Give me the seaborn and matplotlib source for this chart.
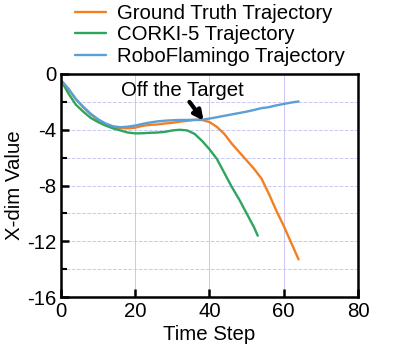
"""
X-dim trajectory comparison: Ground Truth vs CORKI-5 vs RoboFlamingo
"""
import numpy as np
import pandas as pd
import seaborn as sns
import matplotlib.pyplot as plt
from matplotlib.ticker import MultipleLocator

sns.set_theme(style='ticks')
plt.rcParams['font.family'] = ['Liberation Sans', 'DejaVu Sans']
plt.rcParams['axes.unicode_minus'] = False
plt.rcParams['text.color'] = 'black'

# 数据
gt_steps = list(range(0, 65, 2))
gt_values = [-0.45, -1.1, -1.8, -2.4, -2.9, -3.3, -3.6, -3.8, -3.88, -3.9,
             -3.85, -3.72, -3.65, -3.62, -3.55, -3.5, -3.42, -3.36, -3.3, -3.3,
             -3.45, -3.8, -4.3, -5.0, -5.6, -6.2, -6.8, -7.5, -8.6, -9.8,
             -10.9, -12.1, -13.3]

corki_steps = list(range(0, 53, 2)) + [53]
corki_values = [-0.45, -1.4, -2.2, -2.7, -3.15, -3.45, -3.7, -3.9, -4.05, -4.2,
                -4.26, -4.25, -4.22, -4.2, -4.15, -4.05, -4.0, -4.05, -4.3, -4.8,
                -5.4, -6.1, -7.1, -8.1, -9.0, -10.0, -11.0, -11.6]

flamingo_steps = list(range(0, 65, 2))
flamingo_values = [-0.45, -1.05, -1.8, -2.35, -2.85, -3.25, -3.55, -3.75, -3.82, -3.78,
                   -3.7, -3.58, -3.48, -3.4, -3.35, -3.32, -3.3, -3.3, -3.28, -3.28,
                   -3.2, -3.1, -3.0, -2.9, -2.8, -2.7, -2.58, -2.45, -2.38, -2.25,
                   -2.15, -2.05, -1.97]

series = [
    ('Ground Truth Trajectory', gt_steps, gt_values, '#F47F20'),
    ('CORKI-5 Trajectory', corki_steps, corki_values, '#2EA55E'),
    ('RoboFlamingo Trajectory', flamingo_steps, flamingo_values, '#5A9FD6'),
]

FS = 14.7

fig = plt.figure(figsize=(3.95, 3.53), dpi=100)
ax = fig.add_axes([0.1544, 0.1586, 0.7519, 0.6318])

for name, steps, values, color in series:
    df = pd.DataFrame({'step': steps, 'value': values})
    sns.lineplot(data=df, x='step', y='value', ax=ax, color=color, lw=1.7, label=name)

# 标注
ax.text(32.6, -1.2, 'Off the Target', ha='center', va='center', fontsize=FS)
ax.annotate('', xy=(38.4, -3.35), xytext=(34.6, -2.0),
            arrowprops=dict(arrowstyle='-|>', color='black', lw=3.0,
                            mutation_scale=14, shrinkA=0, shrinkB=0))

ax.set_xlim(0, 80)
ax.set_ylim(-16, 0)
ax.xaxis.set_major_locator(MultipleLocator(20))
ax.yaxis.set_major_locator(MultipleLocator(4))
ax.yaxis.set_minor_locator(MultipleLocator(2))
ax.grid(True, which='both', axis='y', color='#C8C8F2', ls='--', lw=0.7)
ax.grid(True, which='major', axis='x', color='#C8C8F2', ls='-', lw=0.7)
ax.tick_params(which='major', direction='in', length=6, width=1.8,
               labelsize=FS, color='black', labelcolor='black')
ax.tick_params(which='minor', direction='in', length=4, width=1.5, color='black')
for sp in ax.spines.values():
    sp.set_linewidth(1.8)
    sp.set_color('black')
ax.set_xlabel('Time Step', fontsize=FS, color='black', labelpad=3)
ax.set_ylabel('X-dim Value', fontsize=FS, color='black', labelpad=2)

ax.get_legend().remove()
handles, labels = ax.get_legend_handles_labels()
fig.legend(handles, labels, loc='upper left', bbox_to_anchor=(0.17, 1.012),
           frameon=False, fontsize=FS, labelspacing=0.12, handlelength=1.5,
           handletextpad=0.55, borderaxespad=0, labelcolor='black')

fig.savefig('out.png', dpi=100)
